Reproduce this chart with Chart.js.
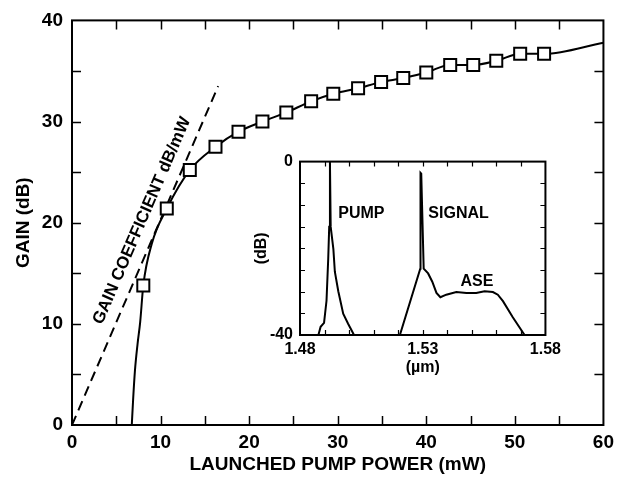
<!DOCTYPE html>
<html><head><meta charset="utf-8">
<script src="https://cdn.jsdelivr.net/npm/chart.js@4.4.1/dist/chart.umd.min.js"></script>
<style>
html,body{margin:0;padding:0;background:#fff;}
#wrap{position:relative;width:620px;height:483px;overflow:hidden;}
#main{position:absolute;left:0;top:0;}
#inset{position:absolute;left:250px;top:145px;}
</style></head><body>
<div id="wrap"><canvas id="main" width="620" height="483"></canvas><canvas id="inset" width="316" height="235"></canvas></div>
<script>
// ---- main chart data ----
const squarePower = [8.05,10.7,13.3,16.2,18.8,21.5,24.2,27.0,29.5,32.3,34.9,37.4,40.0,42.7,45.3,47.9,50.6,53.3];
const squareGain  = [13.8,21.4,25.2,27.5,29.0,30.0,30.9,32.0,32.75,33.3,33.9,34.3,34.85,35.6,35.6,36.0,36.7,36.7];
const curvePower = [6.75,6.9,7.1,7.4,7.7,8.05,9.0,10.7,13.3,16.2,18.8,21.5,24.2,27.0,29.5,32.3,34.9,37.4,40.0,42.7,45.3,47.9,50.6,53.3,60];
const curveGain  = [0,2.5,5.3,8.0,10.2,13.8,17.9,21.4,25.2,27.5,29.0,30.0,30.9,32.0,32.75,33.3,33.9,34.3,34.85,35.6,35.6,36.0,36.7,36.7,37.8];
const coeffPower = [0,16.5];
const coeffGain  = [0,33.5];
const mainXTicks = [0,10,20,30,40,50,60];
const mainYTicks = [0,10,20,30,40];
// ---- inset data ----
const pumpWl = [1.4875,1.4884,1.4898,1.4908,1.4915,1.4919,1.4922,1.4925,1.4936,1.4942,1.4956,1.4976,1.4996,1.5010,1.5020];
const pumpDb = [-40,-38.1,-37.2,-32.1,-22.4,-15,0,-15,-20.2,-25.4,-29.9,-35.1,-37.4,-38.9,-40];
const signalWl = [1.5207,1.5290,1.5291,1.5294,1.5304,1.5322,1.5339,1.5356,1.5372,1.5396,1.5437,1.5478,1.5518,1.5552,1.5586,1.5606,1.5627,1.5667,1.5715];
const signalDb = [-40,-24.7,-2.6,-2.8,-24.7,-25.8,-27.7,-30.3,-31.3,-30.7,-30.1,-30.3,-30.3,-29.9,-30.1,-30.7,-32.2,-35.9,-40];
const insetXTicks = [1.48,1.53,1.58];
const insetYTicks = [0,-40];

const FONT = "'Liberation Sans', Arial, Helvetica, sans-serif";
const pts = (xs, ys) => xs.map((v,i)=>({x:v,y:ys[i]}));
const near = (v, list) => list.some(t => Math.abs(t - v) < 1e-6);

const frame = {
  id:'frame',
  beforeDraw(chart, args, o){
    if(!o.fill) return;
    const {ctx, chartArea:a} = chart;
    ctx.save(); ctx.fillStyle='#fff';
    ctx.fillRect(a.left,a.top,a.right-a.left,a.bottom-a.top); ctx.restore();
  },
  afterDraw(chart, args, o){
    const {ctx, chartArea:a, scales:{x,y}} = chart;
    ctx.save(); ctx.strokeStyle='#000'; ctx.lineWidth=o.tickWidth;
    ctx.beginPath();
    x.ticks.forEach(t=>{
      if(t.value <= x.min+1e-9 || t.value >= x.max-1e-9) return;
      const p = Math.round(x.getPixelForValue(t.value))+0.5;
      ctx.moveTo(p,a.bottom); ctx.lineTo(p,a.bottom-o.len);
      ctx.moveTo(p,a.top); ctx.lineTo(p,a.top+o.len);
    });
    y.ticks.forEach(t=>{
      if(t.value <= y.min+1e-9 || t.value >= y.max-1e-9) return;
      const p = Math.round(y.getPixelForValue(t.value))+0.5;
      ctx.moveTo(a.left,p); ctx.lineTo(a.left+o.len,p);
      ctx.moveTo(a.right,p); ctx.lineTo(a.right-o.len,p);
    });
    ctx.stroke();
    ctx.lineWidth=o.border;
    ctx.strokeRect(a.left,a.top,a.right-a.left,a.bottom-a.top);
    (o.labels||[]).forEach(l=>{
      const px = x.getPixelForValue(l.x), py = y.getPixelForValue(l.y);
      let rot = 0;
      if(l.along){
        const x0=x.getPixelForValue(l.along[0]), y0=y.getPixelForValue(l.along[1]);
        const x1=x.getPixelForValue(l.along[2]), y1=y.getPixelForValue(l.along[3]);
        rot = Math.atan2(y1-y0, x1-x0);
      }
      ctx.save(); ctx.translate(px,py); ctx.rotate(rot);
      ctx.fillStyle='#000'; ctx.font = 'bold '+l.size+'px '+FONT;
      ctx.textAlign='center'; ctx.textBaseline='middle';
      ctx.fillText(l.text,0,0); ctx.restore();
    });
    ctx.restore();
  }
};

new Chart(document.getElementById('main'), {
  type:'scatter',
  data:{datasets:[
    {data:pts(squarePower,squareGain), showLine:false, pointStyle:'rect', pointRadius:8.5, pointHoverRadius:8.5,
     backgroundColor:'#fff', borderColor:'#000', borderWidth:2, order:0},
    {data:pts(curvePower,curveGain), showLine:true, pointRadius:0, borderColor:'#000', borderWidth:2,
     cubicInterpolationMode:'monotone', order:1},
    {data:pts(coeffPower,coeffGain), showLine:true, pointRadius:0, borderColor:'#000', borderWidth:2,
     borderDash:[10,6], order:2}
  ]},
  options:{
    responsive:false, animation:false, events:[],
    layout:{padding:{top:14,right:16,left:0,bottom:0}},
    plugins:{legend:{display:false}, tooltip:{enabled:false},
      frame:{len:9, tickWidth:1.5, border:2,
        labels:[{text:'GAIN COEFFICIENT dB/mW', x:7.9, y:20.2, size:17, along:[0,0,16.5,33.5]}]}},
    scales:{
      x:{type:'linear', min:0, max:60,
        afterFit(s){ s.height = 58; },
        grid:{display:false, drawTicks:false}, border:{display:false},
        ticks:{stepSize:5, padding:6, color:'#000', font:{family:FONT, size:19, weight:'bold'},
          maxRotation:0, autoSkip:false,
          callback:v=> near(v, mainXTicks) ? String(v) : ''},
        title:{display:true, text:'LAUNCHED PUMP POWER (mW)', color:'#000',
          font:{family:FONT, size:19, weight:'bold'}, padding:{top:0,bottom:7}}},
      y:{type:'linear', min:0, max:40,
        afterFit(s){ s.width = 72; },
        grid:{display:false, drawTicks:false}, border:{display:false},
        ticks:{stepSize:5, padding:9, color:'#000', font:{family:FONT, size:19, weight:'bold'},
          autoSkip:false,
          callback:v=> near(v, mainYTicks) ? String(v) : ''},
        title:{display:true, text:'GAIN (dB)', color:'#000',
          font:{family:FONT, size:19, weight:'bold'}, padding:{top:12,bottom:0}}}
    }
  },
  plugins:[frame]
});

new Chart(document.getElementById('inset'), {
  type:'scatter',
  data:{datasets:[
    {data:pts(pumpWl,pumpDb), showLine:true, pointRadius:0, borderColor:'#000', borderWidth:2},
    {data:pts(signalWl,signalDb), showLine:true, pointRadius:0, borderColor:'#000', borderWidth:2}
  ]},
  options:{
    responsive:false, animation:false, events:[],
    layout:{padding:{top:12,right:20,left:0,bottom:0}},
    plugins:{legend:{display:false}, tooltip:{enabled:false},
      frame:{fill:true, len:5, tickWidth:1.2, border:2,
        labels:[
          {text:'PUMP', x:1.5050, y:-12.0, size:16},
          {text:'SIGNAL', x:1.5446, y:-12.0, size:16},
          {text:'ASE', x:1.5521, y:-27.7, size:16}
        ]}},
    scales:{
      x:{type:'linear', min:1.48, max:1.58,
        afterFit(s){ s.height = 45; },
        grid:{display:false, drawTicks:false}, border:{display:false},
        ticks:{stepSize:0.01, padding:5, color:'#000', font:{family:FONT, size:16, weight:'bold'},
          maxRotation:0, autoSkip:false,
          callback:v=> near(v, insetXTicks) ? v.toFixed(2) : ''},
        title:{display:true, text:'(\u00b5m)', color:'#000',
          font:{family:FONT, size:16, weight:'bold'}, padding:{top:0,bottom:3}}},
      y:{type:'linear', min:-40, max:0,
        afterFit(s){ s.width = 50; },
        grid:{display:false, drawTicks:false}, border:{display:false},
        ticks:{stepSize:5, padding:7, color:'#000', font:{family:FONT, size:16, weight:'bold'},
          autoSkip:false,
          callback:v=> near(v, insetYTicks) ? String(v) : ''},
        title:{display:true, text:'(dB)', color:'#000',
          font:{family:FONT, size:16, weight:'bold'}, padding:{top:2,bottom:0}}}
    }
  },
  plugins:[frame]
});
</script>
</body></html>
